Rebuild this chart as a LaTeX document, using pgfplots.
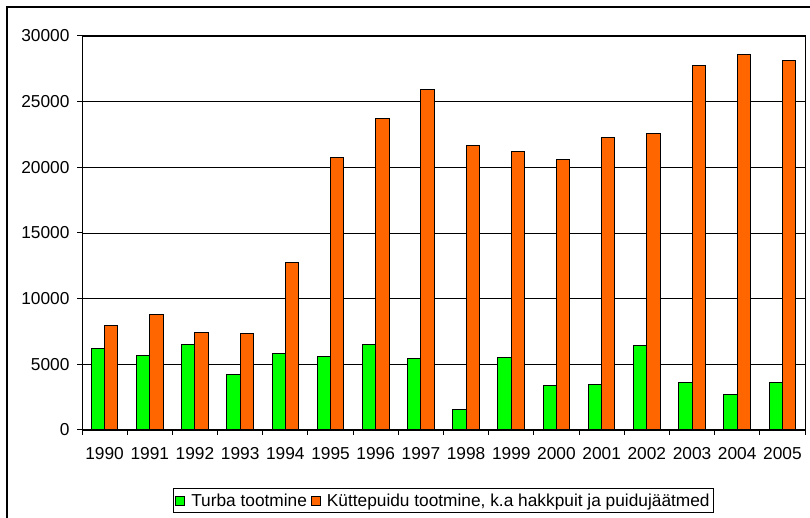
\documentclass[border=0pt]{standalone}
\usepackage{fontspec}
\setmainfont{Liberation Sans}
\usepackage{pgfplots}
\pgfplotsset{compat=1.18}
\definecolor{turba}{HTML}{00FF00}
\definecolor{kytte}{HTML}{FF6600}

\begin{document}
\begin{tikzpicture}[x=1bp,y=1bp]
\useasboundingbox (0,0) rectangle (810,518);
\draw[line width=1.5bp] (7,-2) -- (7,511) -- (812,511);
\begin{axis}[
  at={(82bp,88bp)}, anchor=south west,
  scale only axis, width=723bp, height=394bp,
  xmin=-0.5, xmax=15.5, ymin=0, ymax=30000,
  ybar=0pt, bar width=13.3bp,
  xtick={0,...,15},
  xticklabels={1990,1991,1992,1993,1994,1995,1996,1997,1998,1999,2000,2001,2002,2003,2004,2005},
  major x tick style={draw=none},
  extra x ticks={-0.5,0.5,...,15.5},
  extra x tick labels={},
  extra x tick style={major x tick style={draw=black, line width=1bp}, xmajorgrids=false},
  ytick={0,5000,...,30000},
  scaled y ticks=false,
  /pgf/number format/fixed,
  /pgf/number format/1000 sep={},
  /pgf/number format/assume math mode=true,
  tick align=outside, major tick length=5bp,
  xtick pos=bottom, ytick pos=left,
  ymajorgrids=true,
  grid style={black, line width=0.8bp},
  axis line style={black, line width=1bp},
  major tick style={black, line width=1bp},
  tick label style={font=\fontsize{17.3bp}{19bp}\selectfont},
  xticklabel style={yshift=-9bp},
  yticklabel style={xshift=-4bp},
  legend style={at={(0.5,-0.18)}, anchor=center, draw=black, line width=1bp,
    legend columns=2, font=\fontsize{17.3bp}{19bp}\selectfont,
    inner xsep=2bp, inner ysep=3bp,
    /tikz/every even column/.append style={column sep=2bp}},
  legend image code/.code={\draw[#1, line width=0.8bp] (0bp,-4.5bp) rectangle (9bp,4.5bp);
    \path (13bp,0bp);},
  legend cell align=left,
]
\addplot[fill=turba, draw=black, line width=1bp] coordinates {
 (0,6220) (1,5710) (2,6520) (3,4190) (4,5810) (5,5610) (6,6520) (7,5410)
 (8,1550) (9,5510) (10,3380) (11,3480) (12,6420) (13,3580) (14,2670) (15,3580)};
\addplot[fill=kytte, draw=black, line width=1bp] coordinates {
 (0,7940) (1,8760) (2,7440) (3,7340) (4,12720) (5,20740) (6,23710) (7,25920)
 (8,21650) (9,21240) (10,20630) (11,22280) (12,22590) (13,27740) (14,28580) (15,28150)};
\legend{Turba tootmine, {Küttepuidu tootmine, k.a hakkpuit ja puidujäätmed}}
\end{axis}
\end{tikzpicture}
\end{document}
